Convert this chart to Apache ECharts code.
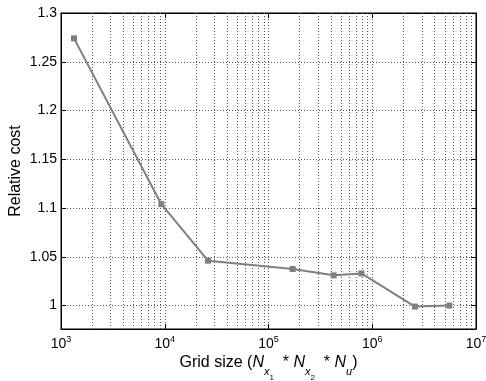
<!DOCTYPE html>
<html>
<head>
<meta charset="utf-8">
<script src="https://cdn.jsdelivr.net/npm/echarts@6/dist/echarts.min.js"></script>
<style>
  html, body { margin: 0; padding: 0; background: #fff; }
  #chart { width: 486px; height: 381px; }
</style>
</head>
<body>
<div id="chart"></div>
<script>
// Grid size (number of grid nodes) and the relative cost reached with it
const gridSizes = [1335, 9270, 26100, 171000, 425000, 786000, 2580000, 5530000];
const relativeCost = [1.274, 1.104, 1.046, 1.0375, 1.031, 1.033, 0.999, 1.0];

// Axis ranges
const xRange = [1e3, 1e7];
const yRange = [0.976, 1.3];

// Minor decade positions (2..9 × 10^k) for the dotted log grid
const minorGrid = [];
for (let e = 3; e < 7; e++) {
  for (let m = 2; m <= 9; m++) minorGrid.push(m * Math.pow(10, e));
}

const FONT = '"Liberation Sans", Arial, Helvetica, sans-serif';
const dotted = { color: '#555', width: 1, type: [1, 2] };

const chart = echarts.init(document.getElementById('chart'), null, { renderer: 'canvas' });

const expLabel = v => '{b|10}{s|' + Math.round(Math.log10(v)) + '}';

// token placed with its centre at `c` px below the top of the text line
const tok = (size, c, italic) => ({
  fontFamily: FONT, fontSize: size, color: '#000',
  fontStyle: italic ? 'italic' : 'normal',
  height: 2 * c, lineHeight: 2 * c, verticalAlign: 'top'
});

chart.setOption({
  animation: false,
  backgroundColor: '#fff',
  textStyle: { fontFamily: FONT, color: '#000' },
  grid: {
    left: 61, right: 10, top: 13, bottom: 52,
    containLabel: false, outerBoundsMode: 'none',
    show: true, borderColor: '#000', borderWidth: 1, backgroundColor: 'transparent'
  },
  xAxis: [{
    type: 'log', logBase: 10, min: xRange[0], max: xRange[1],
    position: 'bottom',
    axisLine: { show: true, onZero: false, lineStyle: { color: '#000', width: 1 } },
    axisTick: { show: true, inside: true, length: 5, lineStyle: { color: '#000' } },
    splitLine: { show: true, lineStyle: dotted },
    axisLabel: {
      margin: 6,
      formatter: expLabel,
      rich: {
        b: tok(14, 9, false),
        s: tok(9, 4.5, false)
      }
    },
    name: '{t|Grid size (}{i|N}{sx|x}{sn|1}{t|  * }{i|N}{sx|x}{sn|2}{t|  * }{i|N}{sx|u}{t|)}',
    nameLocation: 'middle',
    nameMoveOverlap: false,
    nameGap: 24,
    nameTextStyle: {
      fontFamily: FONT, fontSize: 16, color: '#000',
      rich: {
        t: tok(16, 10, false),
        i: tok(16, 10, true),
        sx: tok(11, 19, true),
        sn: tok(8, 25, false)
      }
    }
  }, {
    type: 'log', logBase: 10, min: xRange[0], max: xRange[1],
    position: 'top',
    axisLine: { show: true, onZero: false, lineStyle: { color: '#000', width: 1 } },
    axisTick: { show: true, inside: true, length: 5, lineStyle: { color: '#000' } },
    axisLabel: { show: false },
    splitLine: { show: false }
  }],
  yAxis: [{
    type: 'value', min: yRange[0], max: yRange[1], splitNumber: 6,
    position: 'left',
    axisLine: { show: true, onZero: false, lineStyle: { color: '#000', width: 1 } },
    axisTick: { show: true, inside: true, length: 5, lineStyle: { color: '#000' } },
    splitLine: { show: true, lineStyle: dotted },
    axisLabel: {
      showMinLabel: false, margin: 4,
      fontFamily: FONT, fontSize: 14, color: '#000',
      formatter: v => String(+v.toFixed(3))
    },
    name: 'Relative cost',
    nameLocation: 'middle',
    nameMoveOverlap: false,
    nameGap: 37,
    nameTextStyle: { fontFamily: FONT, fontSize: 16, color: '#000' }
  }, {
    type: 'value', min: yRange[0], max: yRange[1], splitNumber: 6,
    position: 'right',
    axisLine: { show: true, onZero: false, lineStyle: { color: '#000', width: 1 } },
    axisTick: { show: true, inside: true, length: 5, lineStyle: { color: '#000' } },
    axisLabel: { show: false },
    splitLine: { show: false }
  }],
  series: [{
    type: 'line',
    xAxisIndex: 0, yAxisIndex: 0,
    data: gridSizes.map((g, i) => [g, relativeCost[i]]),
    symbol: 'rect', symbolSize: 6,
    lineStyle: { color: '#7f7f7f', width: 2 },
    itemStyle: { color: '#7f7f7f' },
    markLine: {
      silent: true,
      symbol: ['none', 'none'],
      label: { show: false },
      lineStyle: dotted,
      emphasis: { disabled: true },
      data: minorGrid.map(v => ({ xAxis: v }))
    },
    z: 5
  }]
});
</script>
</body>
</html>
